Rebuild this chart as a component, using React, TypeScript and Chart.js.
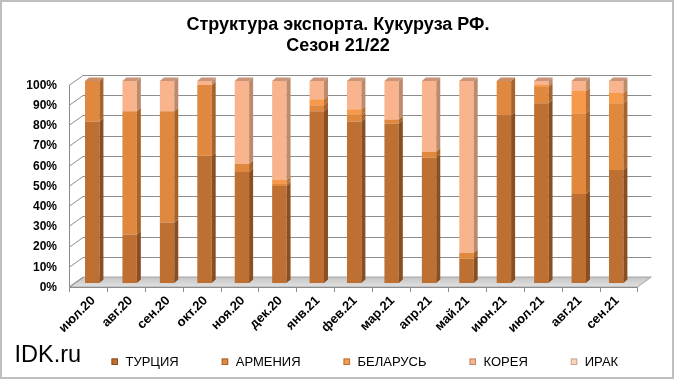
import React, { useEffect, useRef } from "react";
import { Chart, registerables } from "chart.js";

Chart.register(...registerables);

const categories = ["июл.20", "авг.20", "сен.20", "окт.20", "ноя.20", "дек.20", "янв.21", "фев.21", "мар.21", "апр.21", "май.21", "июн.21", "июл.21", "авг.21", "сен.21"];
const turkey = [80, 24, 30, 63, 55, 48, 85, 80, 79, 62, 12, 83, 89, 44, 56];
const armenia = [20, 61, 55, 35, 4, 1, 3, 3, 2, 3, 3, 17, 8, 40, 33];
const belarus = [0, 0, 0, 0, 0, 2, 3, 3, 0, 0, 0, 0, 1, 11, 5];
const korea = [0, 15, 15, 2, 41, 49, 9, 14, 19, 35, 85, 0, 2, 5, 6];
const iraq = [0, 0, 0, 0, 0, 0, 0, 0, 0, 0, 0, 0, 0, 0, 0];
const seriesNames = ["ТУРЦИЯ", "АРМЕНИЯ", "БЕЛАРУСЬ", "КОРЕЯ", "ИРАК"];
const seriesColors = ["#BE7032", "#E0883D", "#F7994A", "#F9B48E", "#FCD3BE"];
const sideColors = ["#8A4E20", "#A8632B", "#B9723A", "#BC8A6C", "#C9A592"];
const topColors = ["#B0805F", "#C98F6A", "#D29A72", "#C9957A", "#D6B4A4"];
const titleLines = ["Структура экспорта. Кукуруза РФ.", "Сезон 21/22"];
const watermark = "IDK.ru";

const FONT = "'Liberation Sans', Arial, sans-serif";

// 3D geometry offsets (relative to the bar plane)
const FRONT_DX = -4.5;
const FRONT_DY = 4;
const DEPTH_X = 14;
const DEPTH_Y = 10;
const BAR_DX = 4;
const BAR_DY = 3.5;

const wallPlugin = {
  id: "wall3d",
  beforeDraw(chart: any) {
    const ctx = chart.ctx;
    const area = chart.chartArea;
    const yScale = chart.scales.y;
    ctx.save();
    ctx.fillStyle = "#FFFFFF";
    ctx.fillRect(0, 0, chart.width, chart.height);
    // outer frame
    ctx.strokeStyle = "#BFBFBF";
    ctx.lineWidth = 2;
    ctx.strokeRect(1, 1, 672, 377);

    const fl = area.left + FRONT_DX;
    const fr = area.right + FRONT_DX + 7;
    const bl = fl + DEPTH_X;
    const br = fr + DEPTH_X;
    const yFront = (v: number) => yScale.getPixelForValue(v) + FRONT_DY;

    // floor
    const y0 = yFront(0);
    ctx.beginPath();
    ctx.moveTo(fl, y0);
    ctx.lineTo(bl, y0 - DEPTH_Y);
    ctx.lineTo(br, y0 - DEPTH_Y);
    ctx.lineTo(fr, y0);
    ctx.closePath();
    const g = ctx.createLinearGradient(0, y0 - DEPTH_Y, 0, y0);
    g.addColorStop(0, "#C4C4C4");
    g.addColorStop(1, "#E2E2E2");
    ctx.fillStyle = g;
    ctx.fill();
    ctx.strokeStyle = "#A6A6A6";
    ctx.lineWidth = 1;
    ctx.stroke();

    // back wall gridlines + diagonal ticks
    ctx.strokeStyle = "#8C8C8C";
    ctx.lineWidth = 1;
    for (const t of yScale.ticks) {
      const yf = Math.round(yFront(t.value)) + 0.5;
      ctx.beginPath();
      ctx.moveTo(fl, yf);
      ctx.lineTo(bl, yf - DEPTH_Y);
      if (t.value > 0) ctx.lineTo(br, yf - DEPTH_Y);
      ctx.stroke();
    }
    // front vertical axis
    ctx.beginPath();
    ctx.moveTo(Math.round(fl) + 0.5, yFront(100));
    ctx.lineTo(Math.round(fl) + 0.5, y0);
    ctx.stroke();
    // front category axis
    ctx.beginPath();
    ctx.moveTo(fl, Math.round(y0) + 0.5);
    ctx.lineTo(fr, Math.round(y0) + 0.5);
    const n = categories.length;
    const step = (fr - fl) / n;
    for (let i = 0; i <= n; i++) {
      const x = Math.round(fl + i * step) + 0.5;
      ctx.moveTo(x, y0);
      ctx.lineTo(x, y0 + 5);
    }
    ctx.stroke();
    ctx.restore();
  },
  afterDatasetsDraw(chart: any) {
    const ctx = chart.ctx;
    ctx.save();
    const nCat = categories.length;
    const topIdx: number[] = [];
    for (let j = 0; j < nCat; j++) {
      let top = -1;
      chart.data.datasets.forEach((ds: any, i: number) => {
        if (ds.data[j] > 0) top = i;
      });
      topIdx.push(top);
    }
    chart.data.datasets.forEach((ds: any, i: number) => {
      const meta = chart.getDatasetMeta(i);
      meta.data.forEach((el: any, j: number) => {
        if (!(ds.data[j] > 0)) return;
        const { x, y, base, width } = el.getProps(["x", "y", "base", "width"], true);
        const r = x + width / 2;
        const l = x - width / 2;
        ctx.fillStyle = sideColors[i];
        ctx.beginPath();
        ctx.moveTo(r, y);
        ctx.lineTo(r + BAR_DX, y - BAR_DY);
        ctx.lineTo(r + BAR_DX, base - BAR_DY);
        ctx.lineTo(r, base);
        ctx.closePath();
        ctx.fill();
        if (topIdx[j] === i) {
          ctx.fillStyle = topColors[i];
          ctx.beginPath();
          ctx.moveTo(l, y);
          ctx.lineTo(l + BAR_DX, y - BAR_DY);
          ctx.lineTo(r + BAR_DX, y - BAR_DY);
          ctx.lineTo(r, y);
          ctx.closePath();
          ctx.fill();
        }
      });
    });
    ctx.restore();
  },
  afterDraw(chart: any) {
    const ctx = chart.ctx;
    ctx.save();
    ctx.fillStyle = "#000000";
    ctx.textAlign = "center";
    ctx.textBaseline = "alphabetic";
    ctx.font = `bold 18px ${FONT}`;
    ctx.fillText(titleLines[0], 338, 30);
    ctx.fillText(titleLines[1], 338, 50.7);

    ctx.textAlign = "left";
    ctx.font = `23.5px ${FONT}`;
    ctx.fillText(watermark, 14.5, 361.7);

    ctx.font = `13px ${FONT}`;
    let x = 111.5;
    chart.data.datasets.forEach((ds: any, i: number) => {
      ctx.fillStyle = seriesColors[i];
      ctx.fillRect(x, 358.5, 6.5, 6.5);
      ctx.strokeStyle = sideColors[i];
      ctx.lineWidth = 1;
      ctx.strokeRect(x + 0.5, 359, 5.5, 5.5);
      ctx.fillStyle = "#000000";
      ctx.fillText(ds.label, x + 14, 366);
      x += 14 + ctx.measureText(ds.label).width + 43;
    });
    ctx.restore();
  },
};

export default function App() {
  const ref = useRef<HTMLCanvasElement | null>(null);
  useEffect(() => {
    if (!ref.current) return;
    const values = [turkey, armenia, belarus, korea, iraq];
    const chart = new Chart(ref.current, {
      type: "bar",
      data: {
        labels: categories,
        datasets: values.map((d, i) => ({
          label: seriesNames[i],
          data: d,
          backgroundColor: seriesColors[i],
          borderWidth: 0,
          categoryPercentage: 1,
          barPercentage: 0.385,
        })),
      },
      options: {
        responsive: false,
        animation: false,
        layout: { padding: { left: 11.5, right: 45.1, top: 81, bottom: 41 } },
        plugins: {
          legend: { display: false },
          title: { display: false },
          tooltip: { enabled: false },
        },
        scales: {
          x: {
            stacked: true,
            grid: { display: false, drawTicks: false },
            border: { display: false },
            ticks: {
              color: "#000000",
              font: { family: FONT, size: 13, weight: "bold" },
              minRotation: 45,
              maxRotation: 45,
              padding: 10,
              labelOffset: 1,
              autoSkip: false,
            },
            afterFit: (s: any) => {
              s.height = 60;
            },
          },
          y: {
            stacked: true,
            min: 0,
            max: 100,
            grid: { display: false, drawTicks: false },
            border: { display: false },
            ticks: {
              stepSize: 10,
              color: "#000000",
              font: { family: FONT, size: 12, weight: "bold" },
              padding: 16.5,
              labelOffset: 4.5,
              callback: (v: any) => `${v}%`,
            },
            afterFit: (s: any) => {
              s.width = 62;
            },
          },
        },
      },
      plugins: [wallPlugin],
    });
    return () => chart.destroy();
  }, []);
  return (
    <div style={{ position: "absolute", left: 0, top: 0, width: 680, height: 384 }}>
      <canvas ref={ref} width={680} height={384} style={{ width: 680, height: 384, display: "block" }} />
    </div>
  );
}
